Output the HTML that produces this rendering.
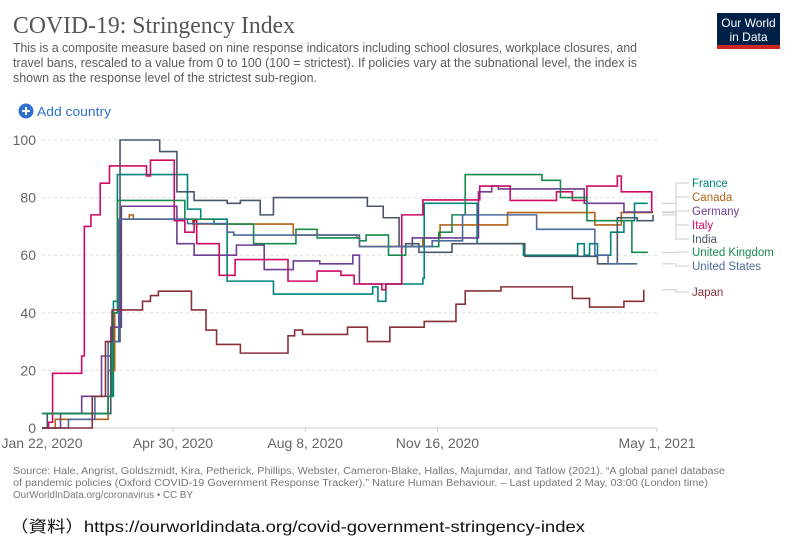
<!DOCTYPE html>
<html><head><meta charset="utf-8"><style>
body{margin:0;background:#fff;}
svg{display:block;font-family:"Liberation Sans",sans-serif;}
</style></head><body>
<svg id="chart" width="789" height="554" viewBox="0 0 789 554" xmlns="http://www.w3.org/2000/svg">
<rect width="789" height="554" fill="#fff"/>
<text x="13" y="33" font-family="'Liberation Serif',serif" font-size="24" fill="#555" textLength="282" lengthAdjust="spacingAndGlyphs">COVID-19: Stringency Index</text>
<g font-size="13" fill="#5b5b5b">
<text x="13" y="52" textLength="624" lengthAdjust="spacingAndGlyphs">This is a composite measure based on nine response indicators including school closures, workplace closures, and</text>
<text x="13" y="67" textLength="624" lengthAdjust="spacingAndGlyphs">travel bans, rescaled to a value from 0 to 100 (100 = strictest). If policies vary at the subnational level, the index is</text>
<text x="13" y="82" textLength="304" lengthAdjust="spacingAndGlyphs">shown as the response level of the strictest sub-region.</text>
</g>
<g>
<rect x="717" y="13" width="63" height="36" fill="#002147"/>
<rect x="717" y="45" width="63" height="4" fill="#ce261e"/>
<text x="748.5" y="27" font-size="12" fill="#fff" text-anchor="middle">Our World</text>
<text x="748.5" y="41" font-size="12" fill="#fff" text-anchor="middle">in Data</text>
</g>
<g>
<circle cx="26" cy="111" r="7.5" fill="#2f6fd0"/>
<path d="M22 111h8M26 107v8" stroke="#fff" stroke-width="2"/>
<text x="37" y="116" font-size="13" fill="#2f6fd0" textLength="74" lengthAdjust="spacingAndGlyphs">Add country</text>
</g>
<g id="grid"></g><g id="series"></g><g id="legend"></g>
<g font-size="10" fill="#777">
<text x="13" y="474" textLength="712" lengthAdjust="spacingAndGlyphs">Source: Hale, Angrist, Goldszmidt, Kira, Petherick, Phillips, Webster, Cameron-Blake, Hallas, Majumdar, and Tatlow (2021). “A global panel database</text>
<text x="13" y="486" textLength="695" lengthAdjust="spacingAndGlyphs">of pandemic policies (Oxford COVID-19 Government Response Tracker).” Nature Human Behaviour. – Last updated 2 May, 03:00 (London time)</text>
<text x="13" y="498" textLength="180" lengthAdjust="spacingAndGlyphs">OurWorldInData.org/coronavirus • CC BY</text>
</g>
<text x="10" y="532" font-family="'Liberation Sans','Noto Sans CJK JP',sans-serif" font-size="16" fill="#111" textLength="575" lengthAdjust="spacingAndGlyphs">（資料）https://ourworldindata.org/covid-government-stringency-index</text>
</svg>
<script>
const yTicks=[0,20,40,60,80,100];
const xTickDays=[0,99,199,299,465];
const xTickLabels=["Jan 22, 2020","Apr 30, 2020","Aug 8, 2020","Nov 16, 2020","May 1, 2021"];
const countries=["France","Canada","Germany","Italy","India","United Kingdom","United States","Japan"];
const colors=["#00847E","#B16214","#6D3E91","#CF0A66","#4a5668","#18894e","#4C6A9C","#883039"];
const france=[[0,5],[44,5],[50,11],[54,44],[57,88],[107,88],[110,76],[120,72.5],[140,51],[175,46.5],[250,49],[254,44],[260,50],[288,52],[289,78],[318,78],[329,64],[363,64],[364,60],[400,60],[405,64],[410,60],[414,64],[420,60],[430,68],[440,72],[448,78],[458,78]];
const canada=[[0,0],[10,3],[49,3],[50,20],[55,40],[58,72.5],[66,74],[69,72.5],[112,72.5],[114,70.8],[187,70.8],[190,67],[238,66],[240,63],[284,63],[288,66],[297,66],[301,70.5],[350,70.5],[352,74.8],[416,74.8],[418,70.5],[434,70.5],[438,74.8],[462,74.8]];
const germany=[[0,0],[14,5],[30,11],[45,25],[52,35],[60,77],[100,77],[102,64],[115,60],[140,60],[147,63.5],[166,63.5],[168,55],[185,55],[190,58],[205,58],[210,57],[235,60],[240,50],[270,50],[272,63],[280,66],[300,66],[329,66],[330,82],[340,84],[345,83],[400,83],[410,78],[440,75],[462,75]];
const italy=[[0,0],[5,2],[8,19],[29,19],[30,25],[32,70],[37,74],[44,85],[51,91],[79,87.5],[82,93],[100,72],[108,68],[115,72],[117,64],[134,53],[146,58.5],[186,51],[208,54.5],[226,53],[236,50],[257,48],[260,50],[272,74],[288,79.2],[329,79.2],[331,84],[345,84],[350,84],[354,79],[389,82],[401,79],[412,84],[435,87.5],[438,82],[457,82],[461,75]];
const india=[[0,0],[4,5],[45,5],[52,30],[59,100],[88,100],[89,96],[101,96],[102,82],[113,82],[115,79],[140,78],[150,79],[165,74],[175,80],[240,80],[246,77],[255,77],[258,73],[268,73],[270,63],[275,64],[285,61],[305,61],[310,64],[360,64],[365,59.6],[412,59.6],[420,57],[430,57],[435,73],[450,72],[462,74]];
const uk=[[0,5],[50,11],[53,40],[57,79],[105,79],[108,72.5],[128,72.5],[130,70.8],[150,70.8],[160,64],[190,64],[192,69],[205,69],[208,66],[235,66],[240,65],[245,67],[257,67],[262,60],[275,63],[290,63],[300,68],[310,74],[320,88],[375,88],[378,86],[388,86],[392,80],[405,80],[412,72],[440,72],[446,61],[458,61]];
const us=[[0,0],[20,3],[40,11],[50,30],[58,72.5],[105,72.5],[110,71],[140,68],[145,67],[238,67],[240,63],[265,63],[290,63],[295,65],[318,74],[371,74],[374,69],[413,69],[418,60],[428,57],[450,57]];
const japan=[[0,0],[38,11],[48,30],[53,41],[70,41],[76,44],[82,46],[88,47.5],[112,47.5],[113,41],[122,41],[124,34],[132,29],[150,26],[182,26],[186,32],[191,34],[197,32.5],[231,35],[246,30],[263,35],[289,37],[313,43],[320,47.6],[347,49],[401,45],[414,42],[440,44],[455,48]];
const seriesData=[france,canada,germany,italy,india,uk,us,japan];
const legendY=[187,201,215,229,243,256,270,296];

const X0=42,X1=657,Y0=428,Y1=140,DMAX=465;
const xs=d=>X0+d*(X1-X0)/DMAX;
const ys=v=>Y0-v*(Y0-Y1)/100;
const NS="http://www.w3.org/2000/svg";
function mk(tag,attrs,parent){const e=document.createElementNS(NS,tag);for(const k in attrs)e.setAttribute(k,attrs[k]);parent.appendChild(e);return e;}
const grid=document.getElementById('grid');
yTicks.forEach(t=>{
  const l=mk('line',{x1:X0,x2:X1,y1:ys(t),y2:ys(t),stroke:t===0?'#ccc':'#ddd','stroke-dasharray':t===0?'':'3,3'},grid);
  
  
  const tx=mk('text',{x:36,y:ys(t)+5,'text-anchor':'end','font-size':14,fill:'#666'},grid);
  tx.textContent=t;
  
  
});
xTickDays.forEach((d,i)=>{
  mk('line',{x1:xs(d),x2:xs(d),y1:Y0,y2:Y0+4,stroke:'#ccc'},grid);
  const tx=mk('text',{x:xs(d),y:448,'text-anchor':'middle','font-size':14,fill:'#666'},grid);
  tx.textContent=xTickLabels[i];
  
  
});
const sg=document.getElementById('series');
seriesData.forEach((s,i)=>{
  let d='M'+xs(s[0][0])+' '+ys(s[0][1]);
  for(let j=1;j<s.length;j++){d+=' H'+xs(s[j][0])+' V'+ys(s[j][1]);}
  const p=mk('path',{d:d,fill:'none',stroke:colors[i],'stroke-width':1.6},sg);
  
  
});
const lg=document.getElementById('legend');
seriesData.forEach((s,i)=>{
  const endY=ys(s[s.length-1][1]);
  mk('path',{d:`M662 ${endY} H676 V${legendY[i]-4} H689`,fill:'none',stroke:'#ccc','stroke-width':1},lg);
  const t=mk('text',{x:692,y:legendY[i],'font-size':11.5,fill:colors[i]},lg);
  t.textContent=countries[i];
  
  
});
</script>
</body></html>
